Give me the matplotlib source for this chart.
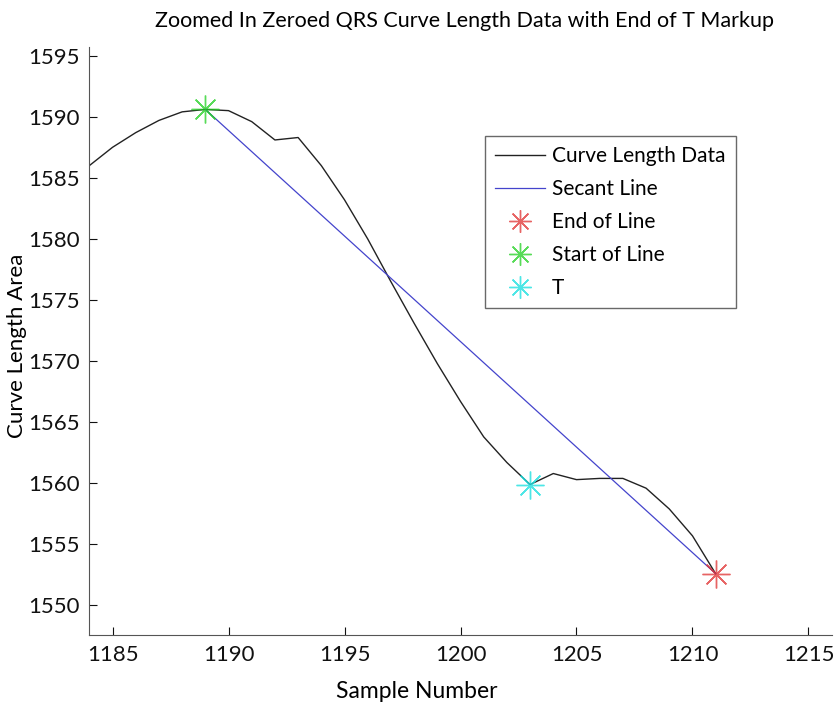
import matplotlib
matplotlib.use("Agg")
import matplotlib.pyplot as plt

plt.rcParams['font.family'] = ['Lato', 'DejaVu Sans']

# curve length data, one value per sample
samples = [1184, 1185, 1186, 1187, 1188, 1189, 1190, 1191, 1192, 1193,
           1194, 1195, 1196, 1197, 1198, 1199, 1200, 1201, 1202, 1203,
           1204, 1205, 1206, 1207, 1208, 1209, 1210, 1211]
curve_length = [1586.0, 1587.5, 1588.7, 1589.7, 1590.4, 1590.6, 1590.5, 1589.6, 1588.1, 1588.3,
                1586.0, 1583.2, 1580.0, 1576.5, 1573.1, 1569.8, 1566.7, 1563.8, 1561.7, 1559.9,
                1560.8, 1560.3, 1560.4, 1560.4, 1559.6, 1557.9, 1555.7, 1552.6]

start_x, start_y = 1189, 1590.6
end_x, end_y = 1211, 1552.6
t_x, t_y = 1203, 1559.9

x_ticks = [1185, 1190, 1195, 1200, 1205, 1210, 1215]
y_ticks = [1550, 1555, 1560, 1565, 1570, 1575, 1580, 1585, 1590, 1595]

fig = plt.figure(figsize=(8.35, 7.03), dpi=100)
ax = fig.add_axes([0.107, 0.097, 0.889, 0.836])

ax.plot(samples, curve_length, color='#222222', lw=1.0, label='Curve Length Data')
ax.plot([start_x, end_x], [start_y, end_y], color='#4444cc', lw=0.9, label='Secant Line')

star = dict(marker=(8, 2, 0), markersize=20, markeredgewidth=1.0, linestyle='none')
ax.plot([end_x], [end_y], color='#e03030', alpha=0.75, label='End of Line', **star)
ax.plot([start_x], [start_y], color='#20d020', alpha=0.75, label='Start of Line', **star)
ax.plot([t_x], [t_y], color='#20e0e0', alpha=0.8, label='T', **star)

ax.set_xlim(1184, 1216)
ax.set_ylim(1547.6, 1595.7)
ax.set_xticks(x_ticks)
ax.set_yticks(y_ticks)
ax.tick_params(direction='in', length=6, width=0.8, labelsize=16, pad=7, colors='#111111')
for side in ['top', 'right']:
    ax.spines[side].set_visible(False)
for side in ['left', 'bottom']:
    ax.spines[side].set_color('#555555')

ax.set_xlabel('Sample Number', fontsize=16.5)
ax.xaxis.set_label_coords(0.441, -0.078)
ax.set_ylabel('Curve Length Area', fontsize=16)
ax.yaxis.set_label_coords(-0.084, 0.491)
ax.set_title('Zoomed In Zeroed QRS Curve Length Data with End of T Markup',
             fontsize=15.5, x=0.506, y=1.02)

leg = ax.legend(loc='upper left', bbox_to_anchor=(0.533, 0.849), fontsize=15,
                frameon=True, fancybox=False, handlelength=2.4, handletextpad=0.3,
                labelspacing=0.62, borderpad=0.5, borderaxespad=0, markerscale=0.8)
leg.get_frame().set_edgecolor('#444444')
leg.get_frame().set_linewidth(1.0)

fig.savefig('out.png', dpi=100)
